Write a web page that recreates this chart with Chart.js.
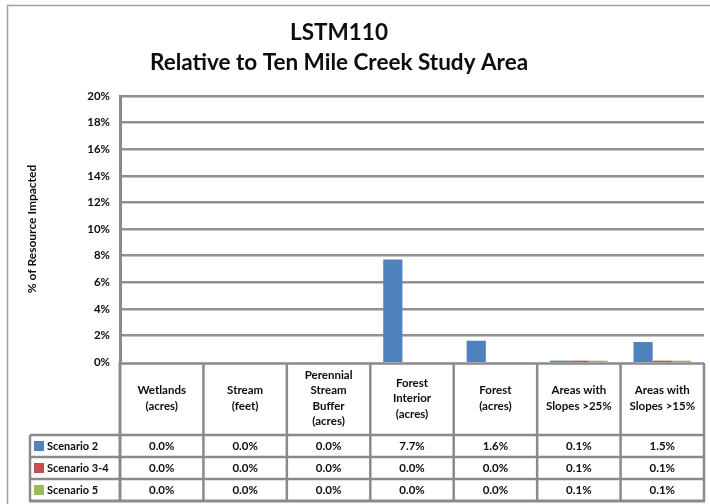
<!DOCTYPE html>
<html>
<head>
<meta charset="utf-8">
<script src="https://cdn.jsdelivr.net/npm/chart.js@4.4.1/dist/chart.umd.min.js"></script>
<style>
  html, body { margin: 0; padding: 0; background: #fff; }
  #wrap { position: relative; width: 710px; height: 504px; }
</style>
</head>
<body>
<div id="wrap"><canvas id="chart"></canvas></div>
<script>
const titleLines = ['LSTM110', 'Relative to Ten Mile Creek Study Area'];
const categories = [
    ['Wetlands', '(acres)'],
    ['Stream', '(feet)'],
    ['Perennial', 'Stream', 'Buffer', '(acres)'],
    ['Forest', 'Interior', '(acres)'],
    ['Forest', '(acres)'],
    ['Areas with', 'Slopes >25%'],
    ['Areas with', 'Slopes >15%']
];
const seriesNames = ['Scenario 2', 'Scenario 3-4', 'Scenario 5'];
const scenario2 = [0.0, 0.0, 0.0, 7.7, 1.6, 0.1, 1.5];
const scenario34 = [0.0, 0.0, 0.0, 0.0, 0.0, 0.1, 0.1];
const scenario5 = [0.0, 0.0, 0.0, 0.0, 0.0, 0.1, 0.1];
const seriesColors = ['#4F81BD', '#C0504D', '#9BBB59'];
const yTitle = '% of Resource Impacted';

const FONT = 'Lato, "Open Sans", sans-serif';
const LINE = '#8a8a8a';
const INK = '#0d0d0d';

// header row under the plot, then one row per series
const headerH = 73;
const rowH = 22;
const tableLeft = 30;

const line = (ctx, x1, y1, x2, y2, w) => {
    ctx.lineWidth = w;
    ctx.beginPath();
    ctx.moveTo(x1, y1);
    ctx.lineTo(x2, y2);
    ctx.stroke();
};

const frame = {
    id: 'frame',
    beforeDraw(chart) {
        const ctx = chart.ctx;
        ctx.save();
        ctx.strokeStyle = '#a0a0a0';
        ctx.lineWidth = 1.5;
        ctx.strokeRect(7.5, 5.5, chart.width, chart.height);
        ctx.restore();
    }
};

const heading = {
    id: 'heading',
    afterDraw(chart) {
        const ctx = chart.ctx;
        ctx.save();
        ctx.fillStyle = INK;
        ctx.font = 'bold 22.5px ' + FONT;
        ctx.textAlign = 'center';
        ctx.textBaseline = 'middle';
        titleLines.forEach((t, i) => ctx.fillText(t, 339, 33 + i * 30));
        ctx.restore();
    }
};

const dataTable = {
    id: 'dataTable',
    afterDraw(chart) {
        const { ctx, chartArea, scales: { x } } = chart;
        const y0 = chartArea.bottom;
        const yHead = y0 + headerH;
        const yEnd = yHead + rowH * seriesNames.length;
        const colW = (chartArea.right - chartArea.left) / categories.length;
        const data = chart.data.datasets.map(ds => ds.data);

        ctx.save();
        ctx.strokeStyle = LINE;

        // top of the header row sits just under the bars
        line(ctx, chartArea.left, y0 + 1.5, chartArea.right, y0 + 1.5, 2.5);
        for (let r = 0; r < seriesNames.length; r++) {
            line(ctx, tableLeft, yHead + r * rowH, chartArea.right, yHead + r * rowH, 2.5);
        }
        line(ctx, tableLeft - 1, yEnd, chartArea.right + 1, yEnd, 3);

        // vertical rules
        line(ctx, tableLeft, yHead, tableLeft, yEnd, 2.5);
        line(ctx, chartArea.left, y0, chartArea.left, yEnd, 3);
        for (let c = 1; c <= categories.length; c++) {
            const cx = x.getPixelForValue(c - 1) + colW / 2;
            line(ctx, cx, y0 + 1, cx, yEnd, 2.5);
        }

        ctx.fillStyle = INK;
        ctx.textAlign = 'center';
        ctx.textBaseline = 'middle';

        // category labels
        ctx.font = 'bold 11.5px ' + FONT;
        categories.forEach((lines, i) => {
            const cx = x.getPixelForValue(i);
            const lh = 15.5;
            const top = y0 + headerH / 2 - (lines.length - 1) * lh / 2;
            lines.forEach((t, j) => ctx.fillText(t, cx, top + j * lh));
        });

        // values
        ctx.font = 'bold 11.5px ' + FONT;
        data.forEach((vals, r) => {
            const cy = yHead + r * rowH + rowH / 2;
            vals.forEach((v, i) => ctx.fillText(v.toFixed(1) + '%', x.getPixelForValue(i), cy));
        });

        // legend keys in the row headers
        ctx.textAlign = 'left';
        ctx.font = 'bold 11px ' + FONT;
        seriesNames.forEach((name, r) => {
            const cy = yHead + r * rowH + rowH / 2;
            ctx.fillStyle = seriesColors[r];
            ctx.fillRect(tableLeft + 4, cy - 5, 10, 10);
            ctx.fillStyle = INK;
            ctx.fillText(name, tableLeft + 17, cy + 0.5);
        });
        ctx.restore();
    }
};

new Chart(document.getElementById('chart'), {
    type: 'bar',
    data: {
        labels: categories.map(c => c.join(' ')),
        datasets: [scenario2, scenario34, scenario5].map((vals, i) => ({
            label: seriesNames[i],
            data: vals,
            backgroundColor: seriesColors[i],
            categoryPercentage: 0.69,
            barPercentage: 1.0
        }))
    },
    options: {
        responsive: true,
        maintainAspectRatio: false,
        animation: false,
        layout: { padding: { left: 25, right: 6, top: 96, bottom: 504 - 362 } },
        plugins: {
            legend: { display: false },
            tooltip: { enabled: false },
            title: { display: false }
        },
        scales: {
            x: { display: false },
            y: {
                min: 0,
                max: 20,
                afterFit: scale => { scale.width = 95; },
                border: { display: true, color: LINE, width: 3 },
                grid: {
                    color: '#909090',
                    // zero line is drawn by the table instead
                    lineWidth: c => (c.tick && c.tick.value === 0 ? 0 : 2.5),
                    drawTicks: false
                },
                ticks: {
                    stepSize: 2,
                    padding: 10,
                    color: INK,
                    font: { family: FONT, size: 11.5, weight: 'bold' },
                    callback: v => v + '%'
                },
                title: {
                    display: true,
                    text: yTitle,
                    color: INK,
                    padding: { top: 0, bottom: 0 },
                    font: { family: FONT, size: 12, weight: 'bold' }
                }
            }
        }
    },
    plugins: [frame, heading, dataTable]
});
</script>
</body>
</html>
